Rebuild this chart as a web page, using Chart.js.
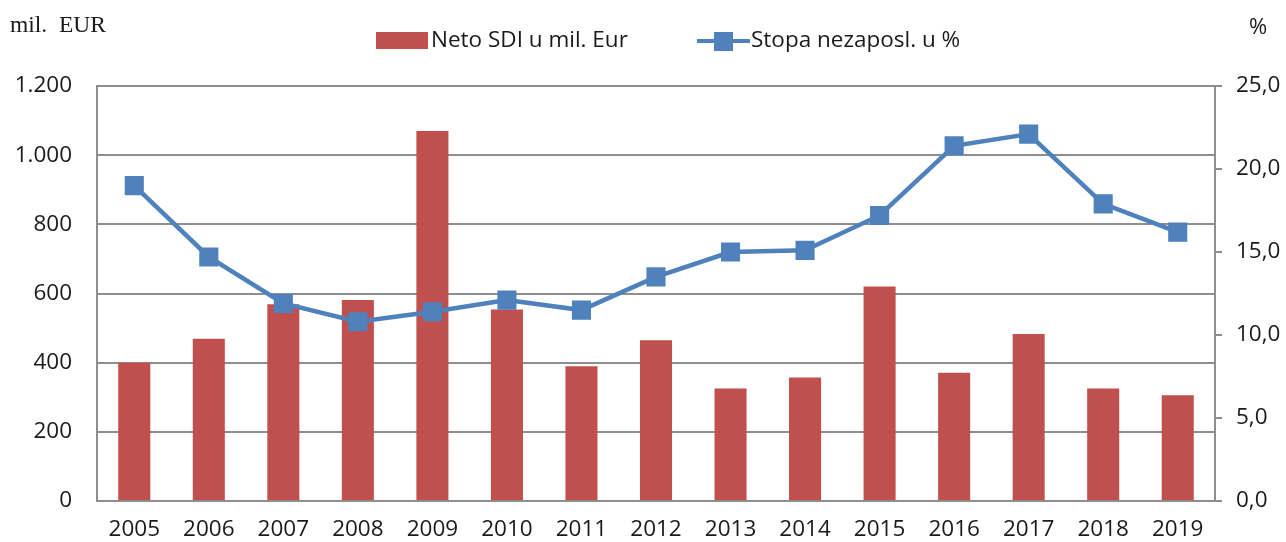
<!DOCTYPE html>
<html>
<head>
<meta charset="utf-8">
<script src="https://cdn.jsdelivr.net/npm/chart.js@4.4.0/dist/chart.umd.min.js"></script>
<style>
  html, body { margin: 0; padding: 0; background: #fff; }
</style>
</head>
<body>
<canvas id="sdiChart" width="1286" height="542"></canvas>
<script>
const years = ['2005', '2006', '2007', '2008', '2009', '2010', '2011', '2012', '2013', '2014', '2015', '2016', '2017', '2018', '2019'];
const netoSdi = [400, 469, 569, 581, 1070, 554, 390, 465, 325, 357, 620, 371, 483, 325, 306];
const stopaNezaposl = [19.0, 14.7, 11.9, 10.8, 11.4, 12.1, 11.5, 13.5, 15.0, 15.1, 17.2, 21.4, 22.1, 17.9, 16.2];
const barLabel = 'Neto SDI u mil. Eur';
const lineLabel = 'Stopa nezaposl. u %';
const leftUnit = 'mil.  EUR';
const rightUnit = '%';

const red = '#C0504D';
const blue = '#4F81BD';
const gridGray = '#8e8e8e';
const textCol = '#1a1a1a';
const sans = '"Open Sans", "Liberation Sans", sans-serif';

// dots for thousands, comma for decimals
const fmtThousands = (v) => String(v).replace(/\B(?=(\d{3})+(?!\d))/g, '.');
const fmtDecimal = (v) => v.toFixed(1).replace('.', ',');

// units and legend above the plot
const headerPlugin = {
    id: 'header',
    afterDraw(chart) {
        const ctx = chart.ctx;
        ctx.save();
        ctx.fillStyle = textCol;
        ctx.textBaseline = 'middle';
        ctx.font = '23.5px "Liberation Serif", "Times New Roman", serif';
        ctx.textAlign = 'left';
        ctx.fillText(leftUnit, 10, 26);
        ctx.font = '22px ' + sans;
        ctx.fillText(rightUnit, 1249, 28);

        // legend
        ctx.font = '22.5px ' + sans;
        ctx.fillStyle = red;
        ctx.fillRect(376, 32, 52, 17);
        ctx.fillStyle = textCol;
        ctx.fillText(barLabel, 431, 41);

        ctx.strokeStyle = blue;
        ctx.lineWidth = 4;
        ctx.beginPath();
        ctx.moveTo(697, 41);
        ctx.lineTo(750, 41);
        ctx.stroke();
        ctx.fillStyle = blue;
        ctx.fillRect(714, 32, 19, 19);
        ctx.fillStyle = textCol;
        ctx.fillText(lineLabel, 751, 41);
        ctx.restore();
    }
};

const sdiChart = new Chart(document.getElementById('sdiChart'), {
    data: {
        labels: years,
        datasets: [{
            type: 'line',
            label: lineLabel,
            data: stopaNezaposl,
            yAxisID: 'yRight',
            borderColor: blue,
            backgroundColor: blue,
            borderWidth: 4.5,
            pointStyle: 'rect',
            pointRadius: 13.5,
            pointBorderWidth: 0,
            pointBackgroundColor: blue,
            tension: 0,
            order: 0
        },
        {
            type: 'bar',
            label: barLabel,
            data: netoSdi,
            yAxisID: 'yLeft',
            backgroundColor: red,
            borderWidth: 0,
            barPercentage: 0.43,
            categoryPercentage: 1,
            order: 1
        }]
    },
    options: {
        responsive: false,
        animation: false,
        layout: {
            padding: { top: 86, left: 0, right: 0, bottom: 0 }
        },
        plugins: {
            legend: { display: false },
            tooltip: { enabled: false }
        },
        scales: {
            x: {
                grid: { display: false, drawTicks: false },
                border: { display: true, color: gridGray, width: 2 },
                ticks: { color: textCol, font: { family: sans, size: 22.5 }, padding: 15 },
                afterFit: (scale) => { scale.height = 41; }
            },
            yLeft: {
                position: 'left',
                min: 0,
                max: 1200,
                ticks: {
                    stepSize: 200,
                    color: textCol,
                    font: { family: sans, size: 22.5 },
                    padding: 25,
                    callback: (v) => fmtThousands(v)
                },
                grid: { color: gridGray, lineWidth: 2, drawTicks: false },
                border: { display: true, color: gridGray, width: 2 },
                afterFit: (scale) => { scale.width = 97; }
            },
            yRight: {
                position: 'right',
                min: 0,
                max: 25,
                ticks: {
                    stepSize: 5,
                    color: textCol,
                    font: { family: sans, size: 22.5 },
                    padding: 14,
                    callback: (v) => fmtDecimal(v)
                },
                grid: { drawOnChartArea: false, drawTicks: true, tickLength: 7, color: gridGray, lineWidth: 2 },
                border: { display: true, color: gridGray, width: 2 },
                afterFit: (scale) => { scale.width = 71; }
            }
        }
    },
    plugins: [headerPlugin]
});
</script>
</body>
</html>
